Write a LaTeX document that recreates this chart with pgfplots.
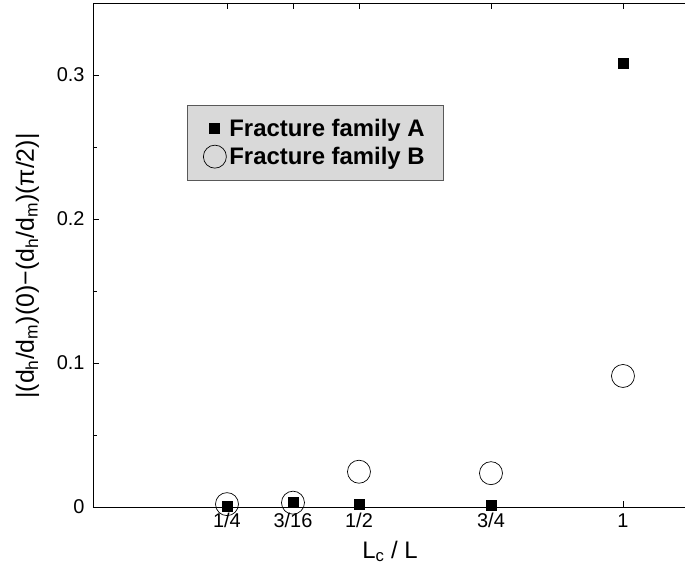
\documentclass[border=0pt]{standalone}
\usepackage{pgfplots}
\pgfplotsset{compat=1.18}
\usepackage{fontspec}
\setmainfont{Liberation Sans}
\begin{document}
\begin{tikzpicture}
\begin{axis}[
  name=ax,
  x=66bp, y=1440bp,
  xmin=-1.03, xmax=8.5, ymin=0, ymax=0.35,
  xtick={1,2,3,5,7}, xticklabels={1/4,3/16,1/2,3/4,1},
  ytick={0,0.1,0.2,0.3}, minor ytick={0.05,0.15,0.25},
  ytick pos=left,
  yticklabel style={/pgf/number format/fixed,/pgf/number format/precision=1, xshift=-5bp},
  xticklabel style={yshift=-3bp},
  /pgf/number format/assume math mode=true,
  tick align=inside,
  major tick length=6bp, minor tick length=4bp,
  tick style={black, line width=0.8pt},
  axis line style={line width=0.9pt},
  tick label style={font=\fontsize{20}{22}\selectfont},
  xlabel={L\textsubscript{c} / L},
  ylabel={|(d\textsubscript{h}/d\textsubscript{m})(0)−(d\textsubscript{h}/d\textsubscript{m})(π/2)|},
  xlabel style={font=\fontsize{24}{26}\selectfont, at={([yshift=-51bp]axis cs:3.47,0)}, anchor=base},
  ylabel style={font=\fontsize{25}{27}\selectfont, at={([xshift=-59bp]axis description cs:0,0.478)}, anchor=base},
  legend style={at={(axis cs:0.394,0.2792)}, anchor=north west,
    fill=black!15, draw=black!65, line width=0.8pt,
    font=\bfseries\fontsize{24}{26}\selectfont,
    inner xsep=16bp, inner ysep=12bp, row sep=5bp, column sep=0bp,
    nodes={inner xsep=3bp}},
  legend cell align=left,
  legend image code/.code={\draw[#1] plot coordinates {(12bp,0bp)};},
]
\addplot[only marks, mark=square*, mark size=5bp, black] coordinates {
  (1,0.0005) (2,0.003) (3,0.002) (5,0.001) (7,0.308)
};
\addlegendentry{Fracture family A\hspace{16bp}}
\addplot[only marks, mark=o, mark size=11.5bp, black, line width=0.7pt] coordinates {
  (1,0.002) (2,0.003) (3,0.0245) (5,0.0235) (7,0.091)
};
\addlegendentry{Fracture family B\hspace{16bp}}
\end{axis}
\pgfresetboundingbox
\useasboundingbox ([shift={(-93bp,-62bp)}]ax.south west) rectangle ([shift={(592bp,507bp)}]ax.south west);
\end{tikzpicture}
\end{document}
